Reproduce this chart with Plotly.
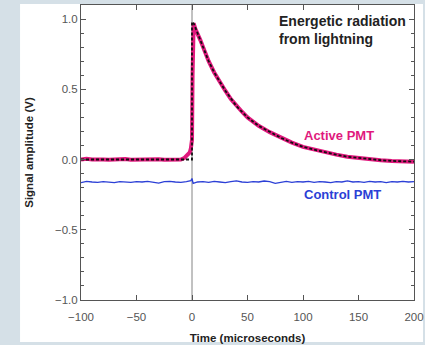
import plotly.graph_objects as go

# ---- data ----
active_t = [-100, -95, -90, -85, -80, -75, -70, -65, -60, -55, -50, -45, -40, -35, -30, -25, -20, -15, -10,
            -7, -5, -4, -3, -2, -1, 0, 0.5, 1.5, 3, 5, 7.5, 10, 15, 20, 25, 30, 35, 40, 45, 50, 60, 70, 80, 90,
            100, 110, 120, 130, 140, 150, 160, 170, 180, 190, 200]
active_v = [0.00, 0.005, 0.0, 0.003, 0.0, -0.002, 0.002, 0.0, 0.003, -0.002, 0.0, 0.002, -0.003, 0.0, 0.002,
            -0.002, 0.0, -0.003, 0.0, 0.01, 0.03, 0.035, 0.04, 0.05, 0.08, 0.14, 0.6, 0.97, 0.93, 0.90, 0.85,
            0.80, 0.70, 0.62, 0.55, 0.49, 0.43, 0.38, 0.34, 0.30, 0.24, 0.195, 0.155, 0.12, 0.09, 0.07, 0.05,
            0.035, 0.02, 0.01, 0.0, -0.005, -0.01, -0.012, -0.015]

fit_t = [-100, 0, 0, 1.5, 5, 10, 15, 20, 25, 30, 40, 50, 60, 70, 80, 90, 100, 110, 120, 130, 140, 150,
         160, 170, 180, 190, 200]
fit_v = [0.0, 0.0, 0.98, 0.97, 0.90, 0.80, 0.70, 0.62, 0.55, 0.49, 0.38, 0.30, 0.24, 0.195, 0.155, 0.12,
         0.09, 0.07, 0.05, 0.035, 0.02, 0.01, 0.0, -0.005, -0.01, -0.012, -0.015]

control_t = [-100, -95, -90, -85, -80, -75, -70, -65, -60, -55, -50, -45, -40, -35, -30, -25, -20, -15,
             -10, -5, -1, 0, 1, 5, 10, 15, 20, 25, 30, 35, 40, 45, 50, 55, 60, 65, 70, 75, 80, 85, 90, 95,
             100, 105, 110, 115, 120, 125, 130, 135, 140, 145, 150, 155, 160, 165, 170, 175, 180, 185,
             190, 195, 200]
control_v = [-0.165, -0.155, -0.16, -0.163, -0.158, -0.16, -0.165, -0.158, -0.16, -0.162, -0.157, -0.16,
             -0.155, -0.162, -0.168, -0.158, -0.155, -0.16, -0.163, -0.158, -0.15, -0.135, -0.17, -0.16,
             -0.158, -0.163, -0.155, -0.16, -0.165, -0.158, -0.152, -0.16, -0.163, -0.157, -0.16, -0.153,
             -0.158, -0.17, -0.16, -0.155, -0.162, -0.157, -0.16, -0.155, -0.163, -0.158, -0.16, -0.165,
             -0.157, -0.16, -0.152, -0.16, -0.158, -0.163, -0.155, -0.16, -0.158, -0.165, -0.157, -0.16,
             -0.155, -0.16, -0.158]

x_ticks = [-100, -50, 0, 50, 100, 150, 200]
y_ticks = [-1.0, -0.5, 0.0, 0.5, 1.0]
y_tick_text = ["\u22121.0", "\u22120.5", "0.0", "0.5", "1.0"]

PINK = "#e0197d"
BLUE = "#2b3fd6"
BG = "#d5e0e7"
AX = "#555555"

fig = go.Figure()
fig.add_trace(go.Scatter(x=control_t, y=control_v, mode="lines",
                         line=dict(color=BLUE, width=1.3), hoverinfo="skip"))
fig.add_trace(go.Scatter(x=active_t, y=active_v, mode="lines",
                         line=dict(color=PINK, width=4), hoverinfo="skip"))
fig.add_trace(go.Scatter(x=fit_t, y=fit_v, mode="lines",
                         line=dict(color="#111111", width=1.8, dash="3px,2px"), hoverinfo="skip"))

# white panel behind the plot
fig.add_shape(type="rect", xref="paper", yref="paper", x0=-0.183, x1=1.027, y0=-0.142, y1=1.003,
              fillcolor="white", line=dict(width=0), layer="below")
# vertical line at t = 0
fig.add_shape(type="line", xref="x", yref="paper", x0=0, x1=0, y0=0, y1=1,
              line=dict(color="#666666", width=0.8), layer="below")

font = "Liberation Sans, Arial, sans-serif"
fig.add_annotation(x=77, y=1.055, xref="x", yref="y", text="<b>Energetic radiation<br>from lightning</b>",
                   showarrow=False, xanchor="left", yanchor="top", align="left",
                   font=dict(family=font, size=14, color="#222222"))
fig.add_annotation(x=132, y=0.174, xref="x", yref="y", text="<b>Active PMT</b>",
                   showarrow=False, font=dict(family=font, size=13, color=PINK))
fig.add_annotation(x=136, y=-0.25, xref="x", yref="y", text="<b>Control PMT</b>",
                   showarrow=False, font=dict(family=font, size=13, color=BLUE))

fig.update_layout(
    width=425, height=345,
    margin=dict(l=81, r=11, t=5, b=45),
    paper_bgcolor=BG, plot_bgcolor="white",
    showlegend=False,
    font=dict(family=font, size=11.5, color="#444444"),
)
fig.update_xaxes(range=[-100, 200], tickvals=x_ticks, ticks="inside", ticklen=5, tickcolor=AX,
                 showline=True, linecolor=AX, linewidth=1, mirror="ticks", showgrid=False,
                 zeroline=False, tickfont=dict(size=11.5, color="#555555"), automargin=False,
                 ticklabeloverflow="allow", ticklabelstandoff=6,
                 title=dict(text="<b>Time (microseconds)</b>", font=dict(size=11.5, color="#222222"),
                            standoff=12))
fig.update_yaxes(range=[-1.0, 1.1], tickvals=y_ticks, ticktext=y_tick_text, ticks="inside", ticklen=5,
                 tickcolor=AX, showline=True, linecolor=AX, linewidth=1, mirror="ticks",
                 showgrid=False, zeroline=False, tickfont=dict(size=11.5, color="#555555"),
                 automargin=False,
                 minor=dict(dtick=0.1, ticks="inside", ticklen=3, tickcolor=AX),
                 title=dict(text="<b>Signal amplitude (V)</b>", font=dict(size=11.5, color="#222222"),
                            standoff=18))

fig.write_html("out.html", config={"displayModeBar": False},
               post_script="document.body.style.margin='0';document.body.style.background='" + BG + "';")
